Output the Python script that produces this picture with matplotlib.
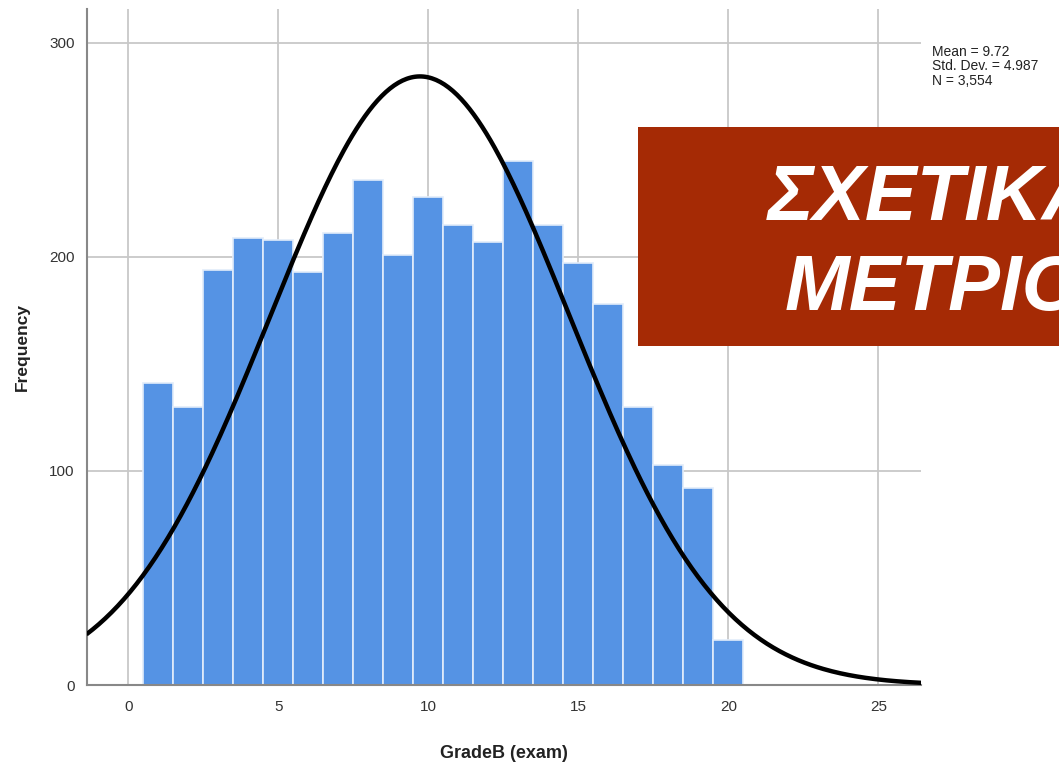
import numpy as np
import matplotlib.pyplot as plt
from matplotlib.patches import Rectangle

plt.rcParams['font.family'] = ['Liberation Sans', 'DejaVu Sans']

# histogram data (bin centres 1..20, width 1)
bin_centers = np.arange(1, 21)
counts = [141, 130, 194, 209, 208, 193, 211, 236, 201, 228,
          215, 207, 245, 215, 197, 178, 130, 103, 92, 21]
mean, sd, n = 9.72, 4.987, 3554
xticks = [0, 5, 10, 15, 20, 25]
yticks = [0, 100, 200, 300]

fig = plt.figure(figsize=(10.59, 7.68), dpi=100)
ax = fig.add_axes([0.0822, 0.108, 0.7875, 0.880])

ax.bar(bin_centers, counts, width=1.0, color='#5593E4',
       edgecolor='#E2ECFA', linewidth=1.2, zorder=2)

xs = np.linspace(-1.4, 26.45, 400)
pdf = n * 1.0 / (sd * np.sqrt(2 * np.pi)) * np.exp(-0.5 * ((xs - mean) / sd) ** 2)
ax.plot(xs, pdf, color='black', lw=3.2, zorder=3, solid_capstyle='butt')

ax.set_xlim(-1.377, 26.42)
ax.set_ylim(0, 315.7)
ax.set_xticks(xticks)
ax.set_yticks(yticks)
ax.grid(True, color='#C8C8C8', lw=1.3, zorder=0)
ax.set_axisbelow(True)
ax.tick_params(length=0, labelsize=11, colors='#333333')
ax.tick_params(axis='x', pad=11)
ax.tick_params(axis='y', pad=9)
for s in ['top', 'right']:
    ax.spines[s].set_visible(False)
for s in ['left', 'bottom']:
    ax.spines[s].set_color('#888888')
    ax.spines[s].set_linewidth(1.5)

ax.set_xlabel('GradeB (exam)', fontsize=13, fontweight='bold', color='#222222', labelpad=22)
ax.set_ylabel('Frequency', fontsize=12.5, fontweight='bold', color='#222222', labelpad=14)

fig.text(0.880, 0.942, 'Mean = 9.72\nStd. Dev. = 4.987\nN = 3,554',
         fontsize=10, color='#222222', va='top', ha='left', linespacing=1.05)

# slide overlay box
fig.patches.append(Rectangle((638 / 1059, 1 - 346 / 768), 0.5, 219 / 768,
                             transform=fig.transFigure, facecolor='#A52A05',
                             edgecolor='none', zorder=10))
fig.text(768 / 1059, 1 - 220 / 768, 'ΣΧΕΤΙΚΑ', fontsize=56, fontweight='bold',
         fontstyle='italic', color='white', ha='left', va='baseline', zorder=11)
fig.text(785 / 1059, 1 - 310 / 768, 'ΜΕΤΡΙΟ', fontsize=56, fontweight='bold',
         fontstyle='italic', color='white', ha='left', va='baseline', zorder=11)

fig.savefig('out.png', dpi=100)
